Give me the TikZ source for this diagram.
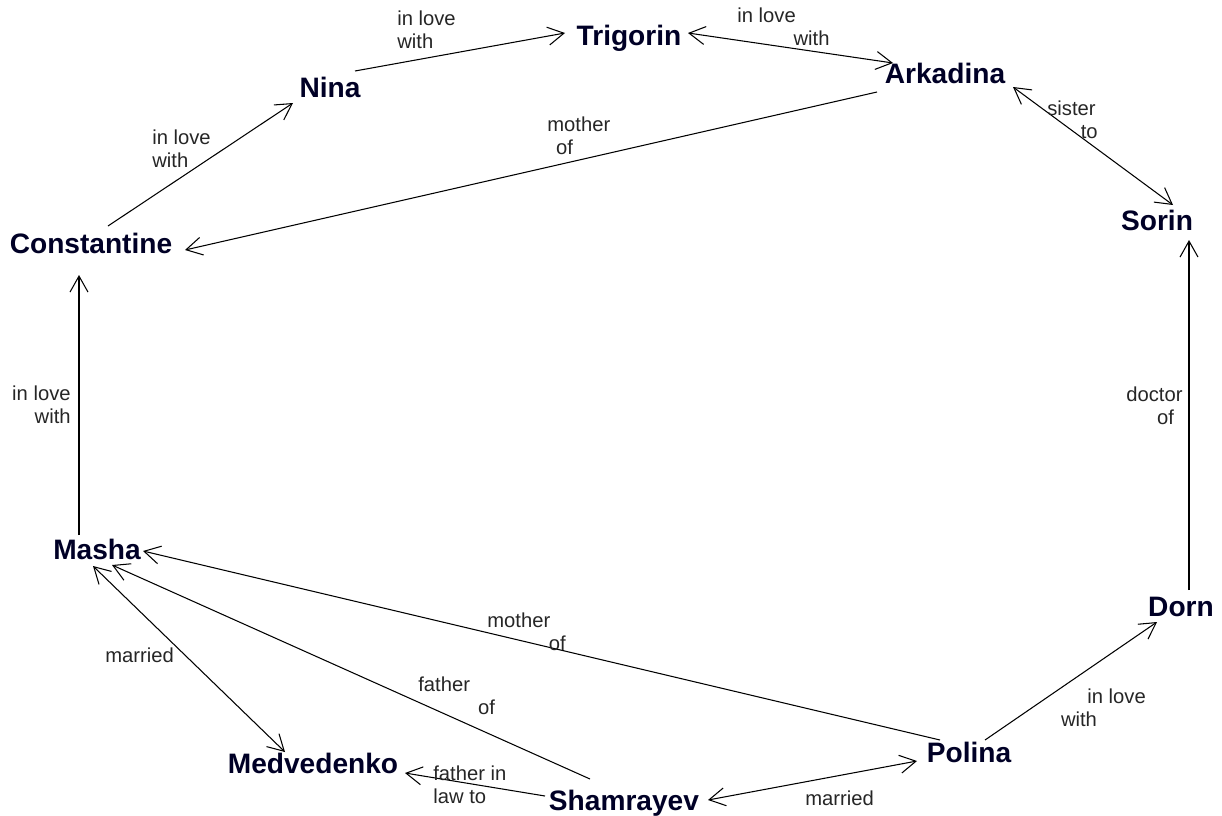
\documentclass[tikz,border=0pt]{standalone}
\usepackage{fontspec}
\setmainfont{Liberation Sans}
\usetikzlibrary{arrows.meta,calc}
\begin{document}
\begin{tikzpicture}[x=0.02cm,y=-0.02cm,
  person/.style={anchor=base,inner sep=0pt,font=\fontsize{16}{18}\selectfont\bfseries,text=black!85!blue},
  rel/.style={inner sep=0pt,font=\fontsize{11.5}{13}\selectfont,text=black!85,align=left,anchor=base west},
  relr/.style={rel,align=right,anchor=base east},
  link/.style={line width=0.6pt,-{Straight Barb[length=0.32cm,width=0.36cm]}},
  both/.style={line width=0.6pt,{Straight Barb[length=0.32cm,width=0.36cm]}-{Straight Barb[length=0.32cm,width=0.36cm]}}]
\useasboundingbox (0,0) rectangle (1222,815);
\fill[white] (0,0) rectangle (1222,815);
% people
\node[person] (Tri) at (629,45) {Trigorin};
\node[person] (Nina) at (330,97) {Nina};
\node[person] (Ark) at (945,83) {Arkadina};
\node[person] (Con) at (91,253) {Constantine};
\node[person] (Sor) at (1157,230) {Sorin};
\node[person] (Mas) at (97,559) {Masha};
\node[person] (Dorn) at (1181,616) {Dorn};
\node[person] (Med) at (313,773) {Medvedenko};
\node[person] (Sham) at (624,810) {Shamrayev};
\node[person] (Pol) at (969,762) {Polina};
% connectors
\draw[link] ($(Nina.base)+(25,-26)$) -- ($(Tri.base)+(-64,-12)$);
\draw[both] ($(Tri.base)+(59,-12)$) -- ($(Ark.base)+(-52,-20)$);
\draw[link] ($(Con.base)+(17,-27)$) -- ($(Nina.base)+(-37,6)$);
\draw[link] ($(Ark.base)+(-68,9)$) -- ($(Con.base)+(94,-3)$);
\draw[both] ($(Ark.base)+(68,4)$) -- ($(Sor.base)+(16,-25)$);
\draw[link] ($(Dorn.base)+(8,-26)$) -- ($(Sor.base)+(32,10)$);
\draw[link] ($(Mas.base)+(-18,-24)$) -- ($(Con.base)+(-12,22)$);
\draw[link] ($(Pol.base)+(-29,-22)$) -- ($(Mas.base)+(46,-8)$);
\draw[link] ($(Sham.base)+(-34,-31)$) -- ($(Mas.base)+(15,6)$);
\draw[both] ($(Mas.base)+(-4,7)$) -- ($(Med.base)+(-28,-21)$);
\draw[link] ($(Sham.base)+(-79,-14)$) -- ($(Med.base)+(92,0)$);
\draw[both] ($(Sham.base)+(84,-10)$) -- ($(Pol.base)+(-52,-1)$);
\draw[link] ($(Pol.base)+(16,-22)$) -- ($(Dorn.base)+(-24,6)$);
% labels (anchor at baseline of last line)
\node[rel] (l1) at (397,48) {in love\\with};
\node[rel] (l2) at (737,45) {in love\\\hspace*{32pt}with};
\node[rel] (l3) at (152,167) {in love\\with};
\node[rel] (l4) at (547,154) {mother\\\hspace*{5pt}of};
\node[rel] (l5) at (1047,138) {sister\\\hspace*{19pt}to};
\node[rel] (l6) at (1126,424) {doctor\\\hspace*{17.5pt}of};
\node[relr] (l7) at (71,423) {in love\\with};
\node[rel] (l8) at (487,650) {mother\\\hspace*{35pt}of};
\node[rel] (l9) at (418,714) {father\\\hspace*{34pt}of};
\node[rel] (l10) at (105,662) {married};
\node[rel] (l11) at (433,803) {father in\\law to};
\node[rel] (l12) at (805,805) {married};
\node[rel] (l13) at (1087,726) {in love\\\hspace*{-15pt}with};
\end{tikzpicture}
\end{document}
